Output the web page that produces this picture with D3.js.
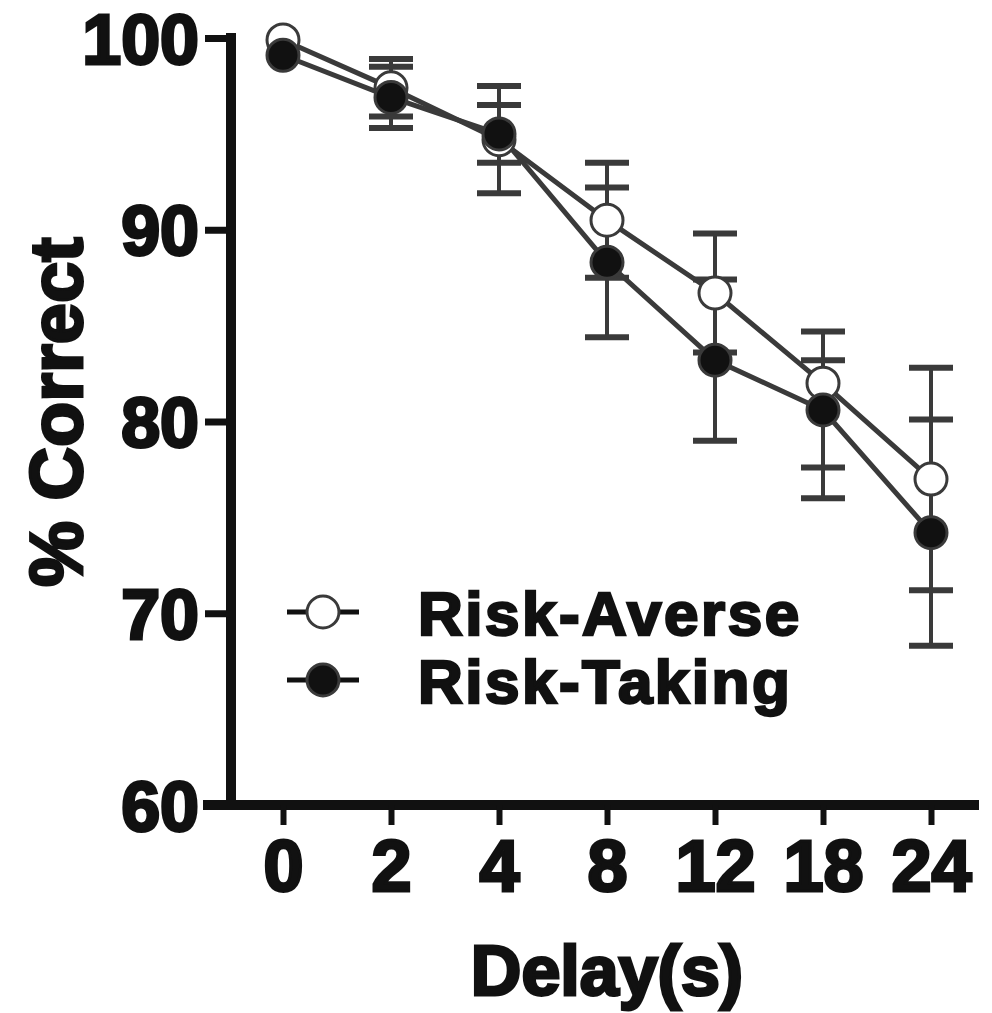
<!DOCTYPE html>
<html>
<head>
<meta charset="utf-8">
<script src="https://cdn.jsdelivr.net/npm/d3@7"></script>
<style>
  body { margin: 0; background: #fff; }
  text { font-family: "Liberation Sans", Arial, sans-serif; font-weight: bold; }
</style>
</head>
<body>
<svg width="992" height="1013"></svg>
<script>

// data (error bar extents as drawn above / below each mean)
const delays = ["0", "2", "4", "8", "12", "18", "24"]
const averse = [99.9, 97.4, 94.7, 90.5, 86.7, 82.0, 77.0]
const averseUp = [0.3, 1.5, 2.8, 3.0, 3.1, 2.7, 5.8]
const averseDown = [0.3, 1.5, 2.8, 3.0, 3.1, 4.4, 5.8]
const taking = [99.1, 96.9, 95.0, 88.3, 83.2, 80.6, 74.2]
const takingUp = [0.5, 1.6, 1.5, 3.9, 4.2, 2.6, 5.9]
const takingDown = [0.5, 1.6, 1.5, 3.9, 4.2, 4.6, 5.9]
const yTicks = [60, 70, 80, 90, 100]

const ink = "#111"
const lineInk = "#3a3a3a"
const markerR = 16

const svg = d3.select("svg")

const x = d3.scalePoint()
    .domain(delays)
    .range([283, 931])

const y = d3.scaleLinear()
    .domain([60, 100])
    .range([805, 38])

const axisLeftX = 231
const axisBottomY = 805

function boldText(sel, size) {
    sel.attr("font-size", size)
        .attr("font-family", "Liberation Sans, Arial, sans-serif")
        .attr("font-weight", "bold")
        .attr("fill", ink)
        .attr("stroke", ink)
        .attr("stroke-width", 3)
}

// Y axis
const yAxis = svg.append("g")
    .attr("transform", `translate(${axisLeftX}, 0)`)
    .call(d3.axisLeft(y).tickValues(yTicks).tickSize(26).tickSizeOuter(0).tickPadding(6))
yAxis.select(".domain").attr("stroke", ink).attr("stroke-width", 10)
    .attr("d", `M0,${y(100) - 5}V${axisBottomY}`)
yAxis.selectAll(".tick line").attr("stroke", ink).attr("stroke-width", 7)
yAxis.selectAll(".tick text")
    .call(boldText, "70px")
    .attr("dy", "0.36em")

// X axis
const xAxis = svg.append("g")
    .attr("transform", `translate(0, ${axisBottomY})`)
    .call(d3.axisBottom(x).tickSize(20).tickSizeOuter(0).tickPadding(14))
xAxis.select(".domain").attr("stroke", ink).attr("stroke-width", 10)
    .attr("d", `M203,0H${x("24") + 48}`)
xAxis.selectAll(".tick line").attr("stroke", ink).attr("stroke-width", 6)
xAxis.selectAll(".tick text")
    .call(boldText, "72px")
    .attr("dy", "0.72em")

// axis titles
svg.append("text")
    .attr("transform", `translate(82, 412) rotate(-90)`)
    .attr("text-anchor", "middle")
    .call(boldText, "74px")
    .text("% Correct")

svg.append("text")
    .attr("x", 607)
    .attr("y", 995)
    .attr("text-anchor", "middle")
    .call(boldText, "70px")
    .text("Delay(s)")

// series
const series = [
    {name: "Risk-Averse", values: averse, up: averseUp, down: averseDown, fill: "#fff"},
    {name: "Risk-Taking", values: taking, up: takingUp, down: takingDown, fill: ink}
]

const line = d3.line()
    .x((d, i) => x(delays[i]))
    .y(d => y(d))

const capW = 22

// error bars (hidden when shorter than the symbol)
series.forEach(s => {
    const eg = svg.append("g")
    s.values.forEach((v, i) => {
        const cx = x(delays[i])
        const lo = y(v - s.down[i]), hi = y(v + s.up[i])
        if (lo - hi < markerR * 2) return
        eg.append("line")
            .attr("x1", cx).attr("x2", cx)
            .attr("y1", hi).attr("y2", lo)
            .attr("stroke", lineInk).attr("stroke-width", 4)
        ;[hi, lo].forEach(cy => {
            eg.append("line")
                .attr("x1", cx - capW).attr("x2", cx + capW)
                .attr("y1", cy).attr("y2", cy)
                .attr("stroke", lineInk).attr("stroke-width", 6)
        })
    })
})

series.forEach(s => {
    svg.append("path")
        .datum(s.values)
        .attr("fill", "none")
        .attr("stroke", lineInk)
        .attr("stroke-width", 5)
        .attr("d", line)
})

series.forEach(s => {
    svg.append("g")
        .selectAll("circle")
        .data(s.values)
        .join("circle")
        .attr("cx", (d, i) => x(delays[i]))
        .attr("cy", d => y(d))
        .attr("r", markerR)
        .attr("fill", s.fill)
        .attr("stroke", lineInk)
        .attr("stroke-width", 3)
})

// legend
const legend = svg.append("g")
    .attr("transform", "translate(287, 612)")

series.forEach((s, i) => {
    const row = legend.append("g").attr("transform", `translate(0, ${i * 68})`)
    row.append("line")
        .attr("x1", 0).attr("x2", 72)
        .attr("stroke", ink).attr("stroke-width", 5)
    row.append("circle")
        .attr("cx", 36).attr("r", markerR)
        .attr("fill", s.fill)
        .attr("stroke", lineInk).attr("stroke-width", 3)
    row.append("text")
        .attr("x", 131)
        .attr("y", 23)
        .call(boldText, "62px")
        .attr("stroke-width", 2.5)
        .attr("letter-spacing", "2.5px")
        .text(s.name)
})

</script>
</body>
</html>
